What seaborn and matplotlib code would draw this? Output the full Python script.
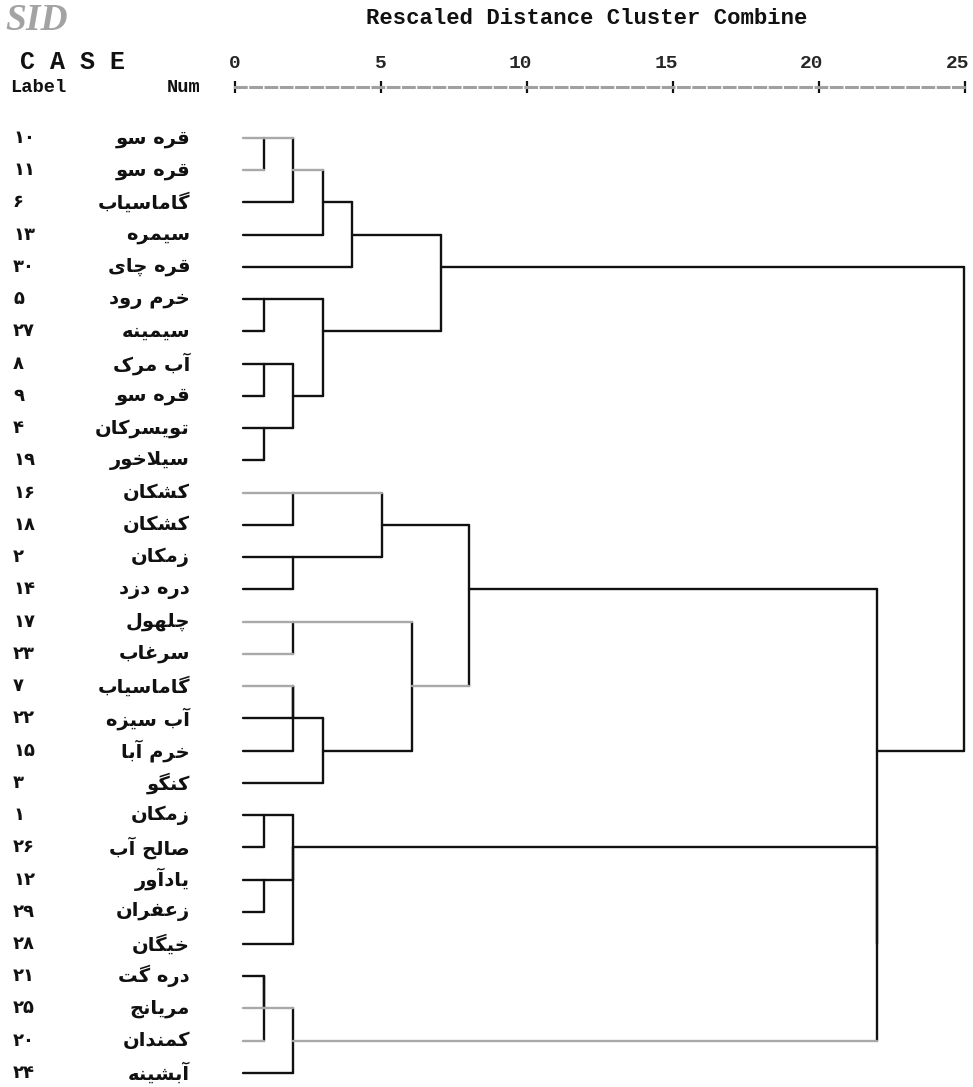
import matplotlib
matplotlib.use("Agg")
import matplotlib.pyplot as plt
import pandas as pd
import seaborn as sns
from matplotlib.transforms import blended_transform_factory, ScaledTranslation

# Cases in dendrogram order (top to bottom)
case_names = ['قره سو', 'قره سو', 'گاماسیاب', 'سیمره', 'قره چای', 'خرم رود', 'سیمینه',
              'آب مرک', 'قره سو', 'تویسرکان', 'سیلاخور', 'کشکان', 'کشکان', 'زمکان',
              'دره دزد', 'چلهول', 'سرغاب', 'گاماسیاب', 'آب سیزه', 'خرم آبا', 'کنگو',
              'زمکان', 'صالح آب', 'یادآور', 'زعفران', 'خیگان', 'دره گت', 'مریانج',
              'کمندان', 'آبشینه']
case_nums = [10, 11, 6, 13, 30, 5, 27, 8, 9, 4, 19, 16, 18, 2, 14, 17, 23, 7, 22, 15, 3,
             1, 26, 12, 29, 28, 21, 25, 20, 24]

# Merges: node ids 0..29 are the cases (by row), 30.. are merges in this order
merge_left = [0, 30, 31, 32, 5, 7, 9, 35, 34, 33, 11, 13, 40, 15, 17, 44, 45, 43, 42,
              21, 23, 49, 51, 26, 53, 54, 52, 48, 39]
merge_right = [1, 2, 3, 4, 6, 8, 10, 36, 37, 38, 12, 14, 41, 16, 18, 19, 20, 46, 47,
               22, 24, 50, 25, 27, 28, 29, 55, 56, 57]
merge_dist = [1, 2, 3, 4, 1, 1, 1, 2, 3, 7.05, 2, 2, 5.05, 2, 2, 2, 3, 6.05, 8,
              1, 1, 2, 2, 1, 1, 2, 22, 22, 24.95]
merge_row = [0, 1, 2, 3, 5, 7, 9, 8, 6, 4, 11, 13, 12, 15, 17, 18, 19, 17, 14,
             21, 23, 22, 22, 26, 27, 28, 25, 19, 12]

x_ticks = [0, 5, 10, 15, 20, 25]

# nodes whose outgoing line came out light grey in the print
light_nodes = {0, 1, 11, 15, 16, 17, 27, 28, 30, 31, 40, 43, 47, 54, 55}
LEAF_X = 0.28

# --- minimal Persian shaping (matplotlib has no bidi / joining support)
FORMS = {
    'ا': ('\uFE8D', '\uFE8E', None, None), 'آ': ('\uFE81', '\uFE82', None, None),
    'ب': ('\uFE8F', '\uFE90', '\uFE91', '\uFE92'), 'پ': ('\uFB56', '\uFB57', '\uFB58', '\uFB59'),
    'ت': ('\uFE95', '\uFE96', '\uFE97', '\uFE98'), 'ج': ('\uFE9D', '\uFE9E', '\uFE9F', '\uFEA0'),
    'چ': ('\uFB7A', '\uFB7B', '\uFB7C', '\uFB7D'), 'ح': ('\uFEA1', '\uFEA2', '\uFEA3', '\uFEA4'),
    'خ': ('\uFEA5', '\uFEA6', '\uFEA7', '\uFEA8'), 'د': ('\uFEA9', '\uFEAA', None, None),
    'ذ': ('\uFEAB', '\uFEAC', None, None), 'ر': ('\uFEAD', '\uFEAE', None, None),
    'ز': ('\uFEAF', '\uFEB0', None, None), 'ژ': ('\uFB8A', '\uFB8B', None, None),
    'س': ('\uFEB1', '\uFEB2', '\uFEB3', '\uFEB4'), 'ش': ('\uFEB5', '\uFEB6', '\uFEB7', '\uFEB8'),
    'ص': ('\uFEB9', '\uFEBA', '\uFEBB', '\uFEBC'), 'ع': ('\uFEC9', '\uFECA', '\uFECB', '\uFECC'),
    'غ': ('\uFECD', '\uFECE', '\uFECF', '\uFED0'), 'ف': ('\uFED1', '\uFED2', '\uFED3', '\uFED4'),
    'ق': ('\uFED5', '\uFED6', '\uFED7', '\uFED8'), 'ک': ('\uFB8E', '\uFB8F', '\uFB90', '\uFB91'),
    'گ': ('\uFB92', '\uFB93', '\uFB94', '\uFB95'), 'ل': ('\uFEDD', '\uFEDE', '\uFEDF', '\uFEE0'),
    'م': ('\uFEE1', '\uFEE2', '\uFEE3', '\uFEE4'), 'ن': ('\uFEE5', '\uFEE6', '\uFEE7', '\uFEE8'),
    'ه': ('\uFEE9', '\uFEEA', '\uFEEB', '\uFEEC'), 'و': ('\uFEED', '\uFEEE', None, None),
    'ی': ('\uFBFC', '\uFBFD', '\uFBFE', '\uFBFF'),
}


def joins_left(ch):
    return ch in FORMS and FORMS[ch][2] is not None


def shape(text):
    text = text.replace('\u064a', '\u06cc').replace('\u0643', '\u06a9')
    out = []
    i = 0
    while i < len(text):
        c = text[i]
        if c not in FORMS:
            out.append(c)
            i += 1
            continue
        jp = i > 0 and joins_left(text[i - 1])
        if c == 'ل' and i + 1 < len(text) and text[i + 1] in 'اآ':
            lig = {'ا': ('\uFEFB', '\uFEFC'), 'آ': ('\uFEF5', '\uFEF6')}[text[i + 1]]
            out.append(lig[1] if jp else lig[0])
            i += 2
            continue
        jn = joins_left(c) and i + 1 < len(text) and text[i + 1] in FORMS
        iso, fin, ini, med = FORMS[c]
        out.append(med if jp and jn else fin if jp else ini if jn else iso)
        i += 1
    return ''.join(reversed(out))


def fa_digits(n):
    return str(n).translate(str.maketrans('0123456789', '۰۱۲۳۴۵۶۷۸۹'))


# --- build segments of the SPSS style tree
node_h = [0.0] * len(case_names) + list(merge_dist)
node_row = list(range(len(case_names))) + list(merge_row)
rows = []
seg = 0
for l, r, d in zip(merge_left, merge_right, merge_dist):
    rows += [(seg, d, node_row[l], 'dark'), (seg, d, node_row[r], 'dark')]
    seg += 1
    for child in (l, r):
        x0 = LEAF_X if child < len(case_names) else node_h[child]
        tone = 'light' if child in light_nodes else 'dark'
        rows += [(seg, x0, node_row[child], tone), (seg, d, node_row[child], tone)]
        seg += 1
segs = pd.DataFrame(rows, columns=['seg', 'x', 'y', 'tone'])

sns.set_style("white")
plt.rcParams['font.family'] = ['DejaVu Sans']

W, H = 973, 1087
fig = plt.figure(figsize=(W / 100, H / 100), dpi=100)
ax = fig.add_axes([235 / W, 0, 730 / W, 1000 / H])

sns.lineplot(data=segs, x='x', y='y', units='seg', estimator=None, sort=False,
             hue='tone', palette={'dark': '#111111', 'light': '#a9a9a9'},
             legend=False, lw=1.7, ax=ax, clip_on=False)

row_px = 32.24
ax.set_xlim(0, 25)
ax.set_ylim((H - 138) / row_px, -51 / row_px)
for s in ['left', 'right', 'bottom']:
    ax.spines[s].set_visible(False)
ax.spines['top'].set_linestyle((0, (3.5, 1.5)))
ax.spines['top'].set_color('#a0a0a0')
ax.spines['top'].set_linewidth(2.2)
ax.set_xticks(x_ticks)
ax.set_xticklabels([str(t) for t in x_ticks], fontfamily='Liberation Mono',
                   fontweight='bold', fontsize=14)
ax.tick_params(axis='x', top=True, bottom=False, labeltop=True, labelbottom=False,
               direction='inout', length=9, width=1.6, color='#111111', pad=6)
shift = ScaledTranslation(-7 / 100, 0, fig.dpi_scale_trans)
for t, lab in zip(x_ticks, ax.get_xticklabels()):
    if t >= 10:
        lab.set_transform(lab.get_transform() + shift)
ax.set_yticks([])
ax.set_xlabel('')
ax.set_ylabel('')

trans = blended_transform_factory(fig.transFigure, ax.transData)
for i, (name, num) in enumerate(zip(case_names, case_nums)):
    ax.text(13 / W, i, fa_digits(num), transform=trans, ha='left', va='center',
            fontsize=13, fontweight='bold', color='#111111')
    ax.text(190 / W, i, shape(name), transform=trans, ha='right', va='center',
            fontsize=14, fontweight='bold', color='#111111')

mono = dict(fontfamily='Liberation Mono', fontweight='bold', color='#111111')
fig.text(587 / W, 1 - 18 / H, 'Rescaled Distance Cluster Combine', ha='center',
         va='center', fontsize=16, **mono)
fig.text(20 / W, 1 - 62 / H, 'C A S E', ha='left', va='center', fontsize=18, **mono)
fig.text(10 / W, 1 - 87 / H, 'Label', ha='left', va='center', fontsize=13.5, **mono)
fig.text(201 / W, 1 - 87 / H, 'Num', ha='right', va='center', fontsize=13.5, **mono)
fig.text(5 / W, 1 - 20 / H, 'SID', ha='left', va='center', fontsize=27,
         fontfamily='Liberation Serif', fontweight='bold', fontstyle='italic',
         color='#a3a3a3')

fig.savefig('out.png', dpi=100)
